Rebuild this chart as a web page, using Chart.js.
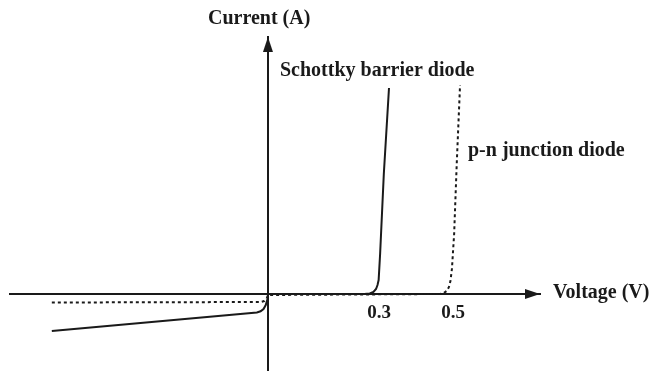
<!DOCTYPE html>
<html>
<head>
<meta charset="utf-8">
<script src="https://cdn.jsdelivr.net/npm/chart.js@4/dist/chart.umd.min.js"></script>
<style>
  html, body { margin: 0; padding: 0; background: #fff; }
  #wrap { width: 653px; height: 373px; }
</style>
</head>
<body>
<div id="wrap"><canvas id="iv"></canvas></div>
<script>
// voltage (V) and current (arbitrary units)
const schottkyV = [-0.584, -0.03, -0.02, -0.012, -0.006, -0.002, 0, 0.26, 0.275, 0.285, 0.292, 0.296, 0.299, 0.303, 0.313, 0.327];
const schottkyI = [-37, -18.5, -17.3, -15, -11, -6, 0, 0, 0.5, 2, 5, 9, 14, 40, 120, 206];
const pnV = [-0.584, -0.02, -0.01, -0.004, 0, 0.465, 0.475, 0.483, 0.489, 0.493, 0.497, 0.503, 0.51, 0.519];
const pnI = [-8.5, -8, -7, -5, -1, 0, 1, 3, 7, 13, 25, 60, 130, 209];
const voltTicks = [0.3, 0.5];

const FONT = '"Liberation Serif", "Times New Roman", serif';
const INK = '#1a1a1a';

function pts(xs, ys) {
  return xs.map((x, i) => ({ x: x, y: ys[i] }));
}

// arrows + hand-placed labels
const sketchPlugin = {
  id: 'sketch',
  afterDraw(chart) {
    const { ctx, scales } = chart;
    const x0 = scales.x.getPixelForValue(0);
    const y0 = scales.y.getPixelForValue(0);
    const xr = scales.x.right;
    const yt = scales.y.top;
    ctx.save();
    ctx.fillStyle = INK;
    // x arrow
    ctx.beginPath();
    ctx.moveTo(xr, y0);
    ctx.lineTo(xr - 15, y0 - 5);
    ctx.lineTo(xr - 15, y0 + 5);
    ctx.closePath();
    ctx.fill();
    // y arrow
    ctx.beginPath();
    ctx.moveTo(x0, yt);
    ctx.lineTo(x0 - 5, yt + 15);
    ctx.lineTo(x0 + 5, yt + 15);
    ctx.closePath();
    ctx.fill();

    ctx.font = 'bold 20px ' + FONT;
    ctx.textBaseline = 'alphabetic';
    ctx.textAlign = 'left';
    ctx.fillText('Current (A)', 208, 24);
    ctx.fillText('Voltage (V)', 553, 298);
    ctx.fillText('Schottky barrier diode', 280, 76);
    ctx.fillText('p-n junction diode', 468, 156);
    ctx.restore();
  }
};

new Chart(document.getElementById('iv'), {
  type: 'scatter',
  data: {
    datasets: [
      {
        label: 'Schottky barrier diode',
        data: pts(schottkyV, schottkyI),
        showLine: true,
        borderColor: INK,
        borderWidth: 2,
        pointRadius: 0,
        tension: 0
      },
      {
        label: 'p-n junction diode',
        data: pts(pnV, pnI),
        showLine: true,
        borderColor: INK,
        borderWidth: 2,
        borderDash: [3, 3],
        pointRadius: 0,
        tension: 0
      }
    ]
  },
  options: {
    responsive: true,
    maintainAspectRatio: false,
    animation: false,
    layout: { padding: { left: 10, right: 113, top: 37, bottom: 3 } },
    plugins: {
      legend: { display: false },
      tooltip: { enabled: false }
    },
    scales: {
      x: {
        type: 'linear',
        position: { y: 0 },
        min: -0.697,
        max: 0.735,
        grid: { display: false, drawTicks: false },
        border: { display: true, color: INK, width: 2 },
        afterBuildTicks: (axis) => { axis.ticks = voltTicks.map(v => ({ value: v })); },
        ticks: {
          color: INK,
          padding: 8,
          font: { family: FONT, size: 19, weight: 'bold' }
        }
      },
      y: {
        type: 'linear',
        position: { x: 0 },
        min: -76,
        max: 257,
        grid: { display: false, drawTicks: false },
        border: { display: true, color: INK, width: 2 },
        ticks: { display: false }
      }
    }
  },
  plugins: [sketchPlugin]
});
</script>
</body>
</html>
